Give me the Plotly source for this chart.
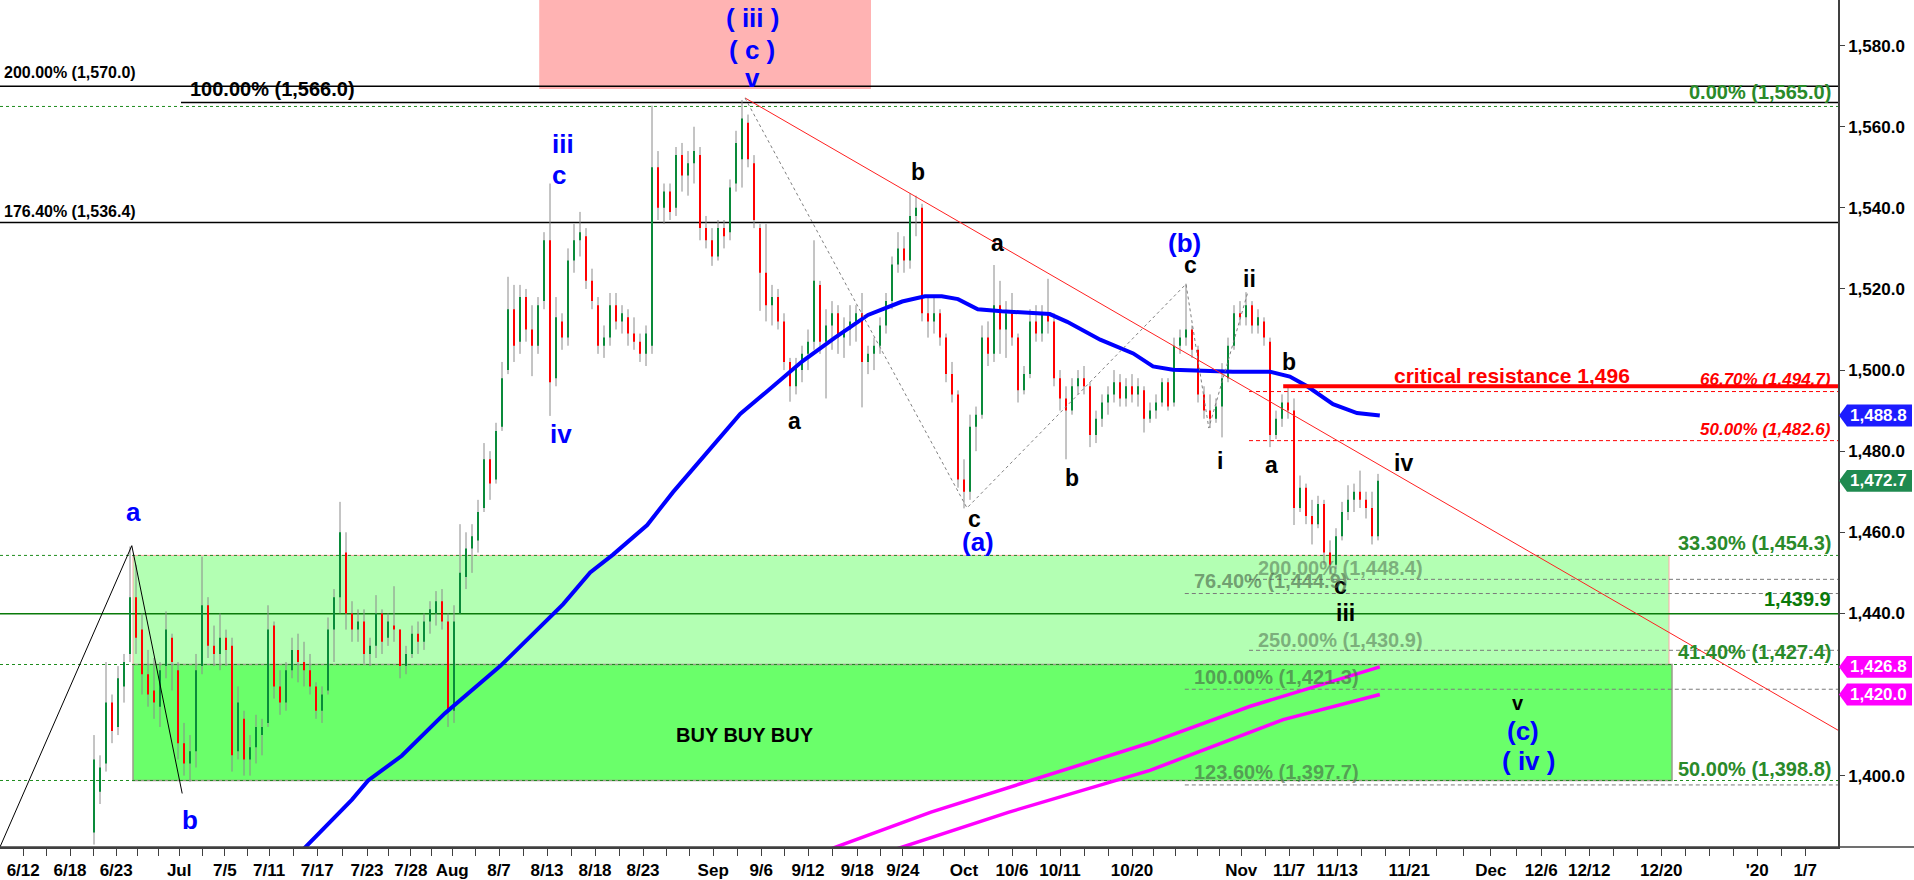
import plotly.graph_objects as go

# ---------------- data ----------------
opens = [1386,1396,1403,1418,1412,1422,1430,1444,1436,1425,1421,1417,1427,1434,1426,1408,1403,1406,1427,1442,
         1432,1430,1434,1432,1406,1414,1404,1407,1410,1413,1437,1422,1418,1426,1431,1428,1426,1422,1416,1421,
         1436,1444,1455,1440,1436,1438,1430,1432,1440,1434,1437,1436,1427,1430,1435,1433,1438,1440,1443,1438,
         1416,1440,1449,1456,1458,1466,1478,1473,1486,1500,1515,1507,1518,1510,1506,1517,1532,1498,1512,1508,
         1527,1532,1533,1522,1516,1506,1508,1516,1512,1513,1509,1507,1504,1506,1550,1540,1544,1540,1553,1548,
         1551,1553,1535,1532,1528,1535,1534,1546,1552,1561,1551,1535,1524,1516,1518,1512,1502,1496,1500,1504,
         1507,1521,1507,1511,1514,1508,1510,1512,1514,1502,1504,1506,1511,1517,1526,1530,1527,1538,1540,1514,
         1512,1514,1508,1499,1494,1473,1470,1486,1489,1508,1504,1516,1510,1514,1508,1495,1499,1512,1509,1514,
         1512,1498,1493,1490,1496,1498,1496,1484,1488,1492,1494,1497,1493,1496,1494,1495,1488,1490,1492,1497,
         1492,1506,1508,1510,1505,1494,1490,1488,1491,1498,1506,1514,1513,1516,1511,1512,1507,1484,1488,1492,
         1490,1466,1471,1464,1462,1467,1455,1452,1459,1465,1468,1470,1468,1466,1459]
highs = [1410,1405,1428,1420,1427,1430,1456.5,1452,1440,1431,1429,1428,1440.5,1435,1428,1413,1410,1430,1454,1444,
         1437,1440,1436,1434,1422,1416,1410,1415,1414,1442,1438,1426,1428,1434,1435,1433,1430,1423,1422,1439,
         1446,1467.5,1460,1443,1441,1441,1434,1444.5,1441,1440,1446.7,1436,1432,1437,1438,1440,1443,1445.5,1446,1440,
         1442,1462,1460,1462,1468,1482,1480,1487,1502,1523,1521,1521,1520,1516,1518,1534,1546,1518,1514,1530,
         1536,1539,1535,1525,1518,1511,1519,1519,1516,1515,1513,1509,1511,1565.2,1554,1546,1546,1555,1556,1554,
         1560,1555,1538,1535,1537,1537,1547,1559,1566.6,1563,1553,1536,1536,1521,1520,1514,1503,1503,1506,1510,
         1532,1522,1515,1517,1516,1513,1516,1516,1519,1506,1508,1513,1519,1528,1534,1533,1543.6,1543,1541,1518,
         1518,1515,1509,1502,1495,1478,1489,1491,1511,1512,1525.9,1522,1517,1519,1509,1501,1515,1516,1516,1522.5,
         1514,1500,1496,1498,1500,1501,1497,1490,1494,1496,1500,1499,1498,1499,1498,1496,1492,1494,1498,1498,
         1508,1510,1521.3,1511,1506,1496,1494,1493,1501.7,1508,1516,1517,1519.2,1517,1515,1513,1508,1490,1494,1496,
         1493,1474,1472,1468,1469,1468,1458,1461,1467.5,1471.6,1472,1475.2,1470,1470,1474.4]
lows = [1383,1393,1401,1408,1410,1418,1428,1430,1420,1417,1414,1412,1424,1421,1404,1400,1398.5,1402,1425,1429,
        1427,1426,1427,1401,1404,1400,1400,1403,1405,1412,1419,1415,1416,1424,1423,1422,1420,1414,1413,1420,
        1428,1440,1436,1433,1433,1427.6,1427,1429,1430,1432,1433,1424,1425,1429,1430,1431,1435,1437,1436,1412,
        1413,1440,1446,1450,1455,1465,1468,1472,1485,1499,1502,1504,1507,1498.5,1504,1515,1488.7,1496,1505,1506,
        1524,1528,1520,1515,1504,1503,1506,1510,1509,1506,1505,1502,1501,1504,1537,1536,1537,1538,1544,1543,
        1546,1532,1530,1525.7,1527,1530,1532,1544,1545,1550,1535,1514.6,1512,1511,1510,1500,1492.2,1494,1497,1500,
        1505,1504,1493,1505,1504,1503,1506,1507,1490.8,1499,1500,1504,1509,1515,1524,1524,1525,1533,1512,1508,
        1509,1506,1497,1492,1471,1465.9,1468,1480,1488,1501,1502,1504,1503,1506,1492,1494,1498,1507,1507,1509,
        1496,1490,1478,1489,1494,1494,1481,1482,1486,1489,1492,1491,1491,1492,1491,1484.6,1487,1488,1491,1490,
        1491,1504,1506,1503,1492,1488,1485.7,1487,1483.4,1497,1505,1511,1511,1509,1509,1506,1481,1483,1486,1488,
        1461.8,1465,1462,1457,1461,1452,1449.6,1451,1458,1463,1465,1466,1463.4,1457,1458]
closes = [1404,1402,1418,1411,1424,1428,1444,1434,1425,1420,1418,1426,1436,1428,1408,1403,1406,1426,1442,1432,
          1430,1434,1431,1405,1418,1404,1407,1412,1412,1436,1422,1418,1426,1431,1428,1426,1422,1416,1420,1436,
          1444,1460,1440,1436,1438,1430,1432,1440,1433,1438,1436,1427,1430,1435,1433,1438,1441,1443,1438,1416,
          1438,1450,1456,1459,1465,1478,1472,1485,1498,1515,1506,1518,1510,1506,1516,1532,1497,1513,1508,1527,
          1532,1534,1522,1517,1506,1508,1516,1512,1514,1509,1507,1504,1509,1550,1540,1544,1539,1553,1548,1551,
          1554,1535,1532,1528,1535,1533,1545,1556,1562,1552,1537,1524,1516,1518,1512,1502,1496,1501,1504,1507,
          1522,1507,1511,1514,1508,1510,1512,1514,1502,1504,1506,1511,1517,1526,1530,1527,1538,1540,1514,1512,
          1514,1508,1499,1494,1473,1470,1486,1489,1508,1504,1516,1510,1514,1508,1495,1499,1512,1509,1514,1512,
          1498,1493,1490,1496,1498,1496,1484,1488,1492,1494,1497,1493,1496,1494,1496,1488,1490,1492,1497,1491,
          1506,1508,1510,1505,1494,1490,1488,1491,1498,1506,1514,1513,1516,1511,1513,1508,1484,1488,1492,1490,
          1466,1471,1464,1462,1467,1455,1452,1459,1465,1468,1470,1468,1466,1459,1472.7]

# blue moving average (bar index, price)
ma_x = [34, 43, 45.7, 51.3, 58.5, 67.7, 78.2, 82.7, 86.5, 92.2, 96.5, 102.2, 107.7, 112.3, 118, 123.5, 129,
        134.7, 138.5, 141.3, 144, 147.3, 151.3, 159.3, 162.2, 167.7, 173.2, 176.5, 179.8, 189.8, 196, 199.3,
        202.2, 206.5, 210.5, 214.3]
ma_y = [1380.5, 1394.1, 1398.8, 1404.9, 1415.4, 1427.0, 1442.3, 1450.1, 1454.5, 1461.8, 1469.9, 1479.6, 1489.2,
        1494.9, 1502.1, 1508.0, 1513.6, 1516.9, 1518.2, 1518.2, 1517.5, 1515.0, 1514.5, 1513.8, 1511.9, 1507.5,
        1504.1, 1500.9, 1500.1, 1499.6, 1499.6, 1498.4, 1496.0, 1491.6, 1489.4, 1488.8]
# magenta averages
mag1_x = [122, 139.5, 176, 192.7, 214.3]
mag1_y = [1381.5, 1391.0, 1408.1, 1417.1, 1426.8]
mag2_x = [133.5, 152.5, 176, 198.2, 214.3]
mag2_y = [1381.8, 1391.0, 1401.3, 1413.8, 1420.0]

trend_x = [108.5, 290.67]
trend_y = [1567.1, 1411.2]
dot_x = [108.5, 145.5, 182.0, 185.8, 192.3]
dot_y = [1567.1, 1466.0, 1521.2, 1485.7, 1519.2]
zig_x = [-15.67, 6.3, 14.7]
zig_y = [1382.4, 1456.7, 1395.6]

tick_labels = ["6/12", "6/18", "6/23", "Jul", "7/5", "7/11", "7/17", "7/23", "7/28", "Aug", "8/7", "8/13",
               "8/18", "8/23", "Sep", "9/6", "9/12", "9/18", "9/24", "Oct", "10/6", "10/11", "10/20", "Nov",
               "11/7", "11/13", "11/21", "Dec", "12/6", "12/12", "12/20", "'20", "1/7"]
tick_pos = [-11.8, -4.0, 3.7, 14.2, 21.8, 29.2, 37.2, 45.5, 52.8, 59.7, 67.5, 75.5, 83.5, 91.5, 103.2, 111.2,
            119.0, 127.2, 134.8, 145.0, 153.0, 161.0, 173.0, 191.2, 199.2, 207.2, 219.2, 232.8, 241.2, 249.2,
            261.2, 277.2, 285.2]
y_ticks = [1400, 1420, 1440, 1460, 1480, 1500, 1520, 1540, 1560, 1580]

black_full_levels = [1570.0, 1536.4]
black_part_level = 1566.0
green_dash_levels = [1565.0, 1454.3, 1427.4, 1398.8]
green_solid_level = 1439.9
red_dash_levels = [1494.7, 1482.6]
critical_level = 1496.0
grey_dash_levels = [1448.4, 1444.9, 1430.9, 1421.3, 1397.7]
grey_dash_start = [192.5, 181.8, 192.5, 181.8, 181.8]

tag_values = [1488.8, 1472.7, 1426.8, 1420.0]
tag_colors = ["#1c1cff", "#1f8a50", "#ff00ff", "#ff00ff"]

# ---------------- geometry ----------------
XMIN, XMAX = -15.667, 290.667
YMIN, YMAX = 1382.4, 1591.25
W, H = 1914, 880
ML, MR, MT, MB = 0, 76, 0, 25
PW = W - ML - MR
PH = H - MT - MB
FONT = "Arial, Liberation Sans, sans-serif"

fig = go.Figure()

# candles
idx = list(range(len(opens)))
wx, wy, ux, uy, dx, dy = [], [], [], [], [], []
for i, o, h, l, c in zip(idx, opens, highs, lows, closes):
    wx += [i, i, None]; wy += [l, h, None]
    if c >= o:
        ux += [i, i, None]; uy += [o, c, None]
    else:
        dx += [i, i, None]; dy += [o, c, None]
fig.add_trace(go.Scatter(x=wx, y=wy, mode="lines", line=dict(color="#8a8a8a", width=1), hoverinfo="skip"))
fig.add_trace(go.Scatter(x=ux, y=uy, mode="lines", line=dict(color="#0a8a3a", width=2), hoverinfo="skip"))
fig.add_trace(go.Scatter(x=dx, y=dy, mode="lines", line=dict(color="#ff0000", width=2), hoverinfo="skip"))

fig.add_trace(go.Scatter(x=mag1_x, y=mag1_y, mode="lines", line=dict(color="#ff00ff", width=3.5)))
fig.add_trace(go.Scatter(x=mag2_x, y=mag2_y, mode="lines", line=dict(color="#ff00ff", width=3.5)))
fig.add_trace(go.Scatter(x=ma_x, y=ma_y, mode="lines", line=dict(color="#0000ff", width=4)))
fig.add_trace(go.Scatter(x=trend_x, y=trend_y, mode="lines", line=dict(color="#ff2020", width=1)))
fig.add_trace(go.Scatter(x=dot_x, y=dot_y, mode="lines", line=dict(color="#808080", width=1, dash="dot")))
fig.add_trace(go.Scatter(x=zig_x, y=zig_y, mode="lines", line=dict(color="#000000", width=1)))

shapes = []
# boxes
shapes.append(dict(type="rect", xref="x", yref="y", x0=74.2, x1=129.5, y0=1569.3, y1=YMAX + 2,
                   fillcolor="#ffb3b3", line=dict(width=0), layer="below"))
shapes.append(dict(type="rect", xref="x", yref="y", x0=6.5, x1=262.5, y0=1427.4, y1=1454.3,
                   fillcolor="#b3ffb3", line=dict(color="#ffa8a8", width=1), layer="below"))
shapes.append(dict(type="rect", xref="x", yref="y", x0=6.5, x1=263.0, y0=1398.8, y1=1427.4,
                   fillcolor="#6aff6a", line=dict(color="#9a9a8a", width=1.5), layer="below"))


def hline(y, x0=XMIN, color="#000", width=1, dash="solid", layer="below"):
    shapes.append(dict(type="line", xref="x", yref="y", x0=x0, x1=XMAX, y0=y, y1=y,
                       line=dict(color=color, width=width, dash=dash), layer=layer))


for lv in black_full_levels:
    hline(lv, color="#000000", width=1.5)
hline(black_part_level, x0=14.5, color="#000000", width=1.5)
for lv in green_dash_levels:
    hline(lv, color="#1e8c1e", width=1, dash="3px,3px")
hline(green_solid_level, color="#0a7a0a", width=1.5)
for lv in red_dash_levels:
    hline(lv, x0=192.5, color="#ff0000", width=1, dash="4px,3px")
for lv, s in zip(grey_dash_levels, grey_dash_start):
    hline(lv, x0=s, color="#7a7a7a", width=1, dash="4px,3px")
hline(critical_level, x0=198.2, color="#ff0000", width=4, layer="above")

# extended bottom line under the price scale
shapes.append(dict(type="line", xref="paper", yref="paper", x0=0, x1=W / PW, y0=0, y1=0,
                   line=dict(color="#404040", width=1.5)))

# price tags on the right scale
ann = []
hp = 11 / PH
for v, col in zip(tag_values, tag_colors):
    py = (v - YMIN) / (YMAX - YMIN)
    tip = 1 + 1 / PW
    sh = 1 + 9 / PW
    r = (W - 2) / PW
    shapes.append(dict(type="path", xref="paper", yref="paper",
                       path=f"M {tip},{py} L {sh},{py + hp} L {r},{py + hp} L {r},{py - hp} L {sh},{py - hp} Z",
                       fillcolor=col, line=dict(width=0)))
    ann.append(dict(xref="paper", yref="paper", x=(PW + 10) / PW, y=py, xanchor="left", yanchor="middle",
                    text=f"{v:,.1f}", showarrow=False,
                    font=dict(family=FONT, size=17, color="white", weight="bold")))


def txt(t, x, y, size, color, anchor="center", bold=True, italic=False):
    ann.append(dict(x=x, y=y, xref="x", yref="y", text=t, showarrow=False, xanchor=anchor,
                    yanchor="middle",
                    font=dict(family=FONT, size=size, color=color,
                              weight="bold" if bold else "normal",
                              style="italic" if italic else "normal")))


BLUE = "#0000ff"
# blue wave labels
for t, x, y in [("a", 6.5, 1465.0), ("b", 16, 1389.0), ("iii", 78.2, 1555.8), ("c", 77.5, 1548.0),
                ("iv", 77.8, 1484.3), ("( iii )", 109.7, 1586.9), ("( c )", 109.7, 1579.0),
                ("v", 109.7, 1571.9), ("(a)", 147.3, 1457.6), ("(b)", 181.8, 1531.4),
                ("(c)", 238.2, 1411.0), ("( iv )", 239.0, 1403.7)]:
    txt(t, x, y, 26, BLUE)
# black wave labels
for t, x, y in [("a", 116.8, 1487.4), ("b", 137.3, 1548.8), ("a", 150.5, 1531.4), ("c", 146.8, 1463.3),
                ("b", 163.0, 1473.3), ("c", 182.8, 1525.8), ("ii", 192.5, 1522.4), ("b", 199.2, 1501.9),
                ("i", 187.7, 1477.7), ("a", 196.2, 1476.7), ("iv", 218.2, 1477.2), ("c", 207.8, 1446.7),
                ("iii", 208.5, 1440.1)]:
    txt(t, x, y, 23, "#000000")
txt("v", 237.3, 1417.8, 20, "#000000")

# left level labels
txt("200.00% (1,570.0)", -15.3, 1573.4, 16, "#000000", anchor="left")
txt("176.40% (1,536.4)", -15.3, 1539.2, 16, "#000000", anchor="left")
txt("100.00% (1,566.0)", 15.7, 1569.3, 20, "#000000", anchor="left")

# right level labels
GREEN = "#2a8a2a"
RX = 289.8
txt("0.00% (1,565.0)", RX, 1568.5, 20, GREEN, anchor="right")
txt("66.70% (1,494.7)", RX, 1497.7, 17, "#ff0000", anchor="right", italic=True)
txt("50.00% (1,482.6)", RX, 1485.3, 17, "#ff0000", anchor="right", italic=True)
txt("33.30% (1,454.3)", RX, 1457.4, 20, GREEN, anchor="right")
txt("1,439.9", RX, 1443.5, 20, "#0a7a0a", anchor="right")
txt("41.40% (1,427.4)", RX, 1430.5, 20, GREEN, anchor="right")
txt("50.00% (1,398.8)", RX, 1401.7, 20, GREEN, anchor="right")
txt("critical resistance 1,496", 216.3, 1498.7, 21, "#ff0000", anchor="left")

GREY = "rgba(70,95,70,0.62)"
txt("200.00% (1,448.4)", 193.7, 1451.3, 20, "rgba(70,95,70,0.5)", anchor="left")
txt("76.40% (1,444.9)", 183.0, 1448.1, 20, GREY, anchor="left")
txt("250.00% (1,430.9)", 193.7, 1433.5, 20, "rgba(70,95,70,0.5)", anchor="left")
txt("100.00% (1,421.3)", 183.0, 1424.4, 20, GREY, anchor="left")
txt("123.60% (1,397.7)", 183.0, 1401.0, 20, GREY, anchor="left")

txt("BUY BUY BUY", 108.5, 1410.0, 20, "#000000")

# x ticks: labelled + intermediate unlabelled
tv, tt = [], []
for k, (p, lab) in enumerate(zip(tick_pos, tick_labels)):
    tv.append(p); tt.append(lab)
    if k + 1 < len(tick_pos):
        gap = tick_pos[k + 1] - p
        n = max(1, round(gap / 4))
        for j in range(1, n):
            tv.append(p + gap * j / n); tt.append("")

fig.update_layout(
    width=W, height=H, margin=dict(l=ML, r=MR, t=MT, b=MB, pad=0),
    paper_bgcolor="white", plot_bgcolor="white", showlegend=False,
    shapes=shapes, annotations=ann,
    xaxis=dict(range=[XMIN, XMAX], tickmode="array", tickvals=tv, ticktext=tt, ticks="outside",
               ticklen=7, tickcolor="#404040", showgrid=False, zeroline=False, showline=True,
               linecolor="#404040", linewidth=1.5,
               tickfont=dict(family=FONT, size=17, color="#000", weight="bold")),
    yaxis=dict(range=[YMIN, YMAX], side="right", tickmode="array", tickvals=y_ticks,
               ticktext=[f"{v:,.1f}" for v in y_ticks], ticks="outside", ticklen=5, tickcolor="#404040",
               showgrid=False, zeroline=False, showline=True, linecolor="#404040", linewidth=1.5,
               tickfont=dict(family=FONT, size=17, color="#000", weight="bold")),
)

fig.write_html("out.html", config={"displayModeBar": False},
               post_script="document.body.style.margin='0';document.body.style.overflow='hidden';")
